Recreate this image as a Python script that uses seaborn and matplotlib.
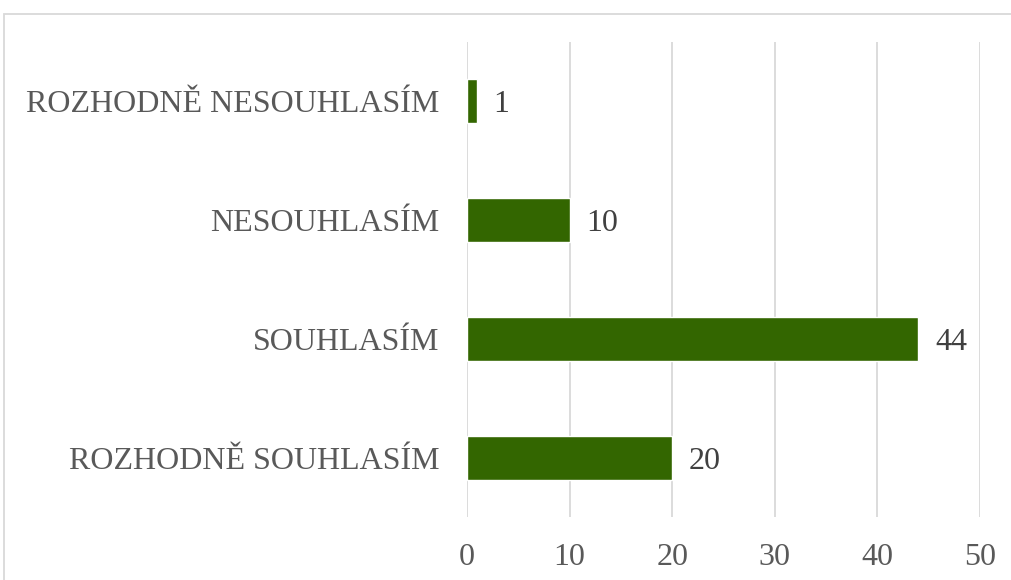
import matplotlib
matplotlib.use("Agg")
import matplotlib.pyplot as plt
import seaborn as sns
import pandas as pd
from matplotlib.patches import Rectangle

# ── Data ────────────────────────────────────────────────────
categories = ["ROZHODNĚ NESOUHLASÍM", "NESOUHLASÍM", "SOUHLASÍM", "ROZHODNĚ SOUHLASÍM"]
counts = [1, 10, 44, 20]
x_ticks = [0, 10, 20, 30, 40, 50]

df = pd.DataFrame({"odpoved": categories, "pocet": counts})

sns.set_theme(style="white")
plt.rcParams["font.family"] = ["Liberation Serif", "DejaVu Serif"]
text_color = "#595959"

fig = plt.figure(figsize=(10.12, 5.8), dpi=100)
ax = fig.add_axes([0.4615, 0.1086, 0.5069, 0.819])

sns.barplot(data=df, x="pocet", y="odpoved", color="#336600", width=0.37,
            saturation=1, ax=ax, zorder=3)

ax.set_xlim(0, 50)
ax.set_ylim(3.5, -0.5)
ax.set_xticks(x_ticks)
ax.set_xlabel("")
ax.set_ylabel("")
ax.grid(axis="x", color="#d9d9d9", linewidth=1.3, zorder=0)
ax.grid(axis="y", visible=False)
for s in ax.spines.values():
    s.set_visible(False)
ax.tick_params(axis="x", length=0, pad=19, labelsize=23, labelcolor=text_color)
ax.tick_params(axis="y", length=0, pad=20, labelsize=23, labelcolor=text_color)

# value labels
for i, v in enumerate(counts):
    ax.text(v + 1.6, i + 0.03, str(v), va="center", ha="left", fontsize=23,
            color="#404040")

# chart-area border (cropped)
fig.patches.append(Rectangle((4 / 1012, -0.1), 1.2, 1 - 14 / 580 + 0.1,
                             transform=fig.transFigure, fill=False,
                             edgecolor="#d9d9d9", linewidth=1.3))

fig.savefig("out.png", dpi=100)
